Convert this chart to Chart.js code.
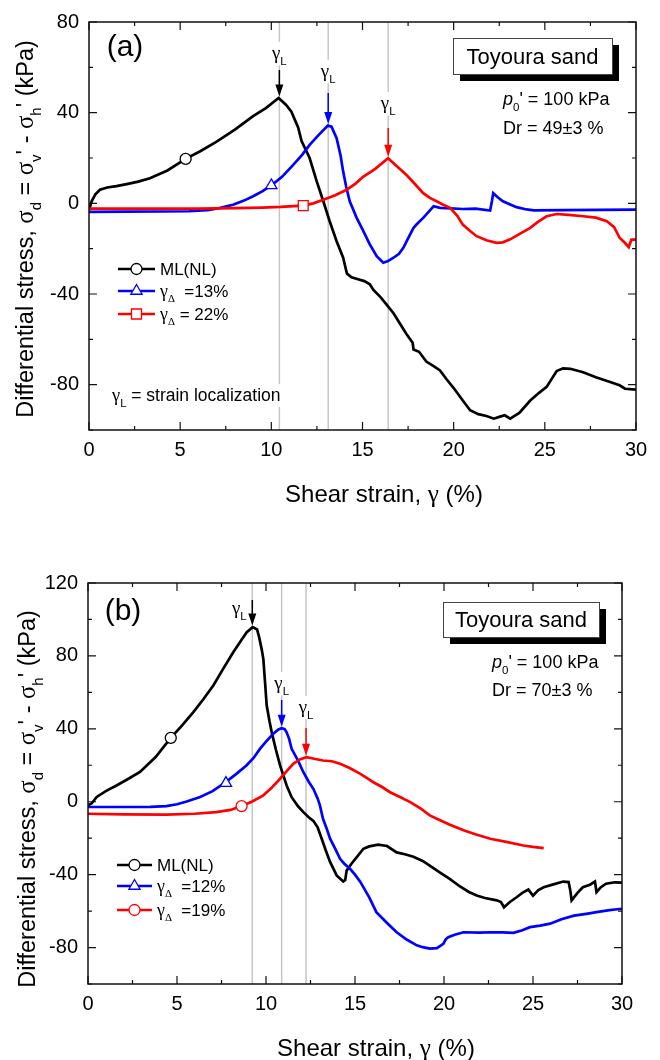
<!DOCTYPE html>
<html><head><meta charset="utf-8">
<script src="https://cdn.jsdelivr.net/npm/chart.js@4.4.1/dist/chart.umd.min.js"></script>
<style>
html,body{margin:0;padding:0;background:#fff;}
.p{position:absolute;left:0;width:660px;height:530px;}
canvas{display:block;}
</style>
</head><body>
<div class="p" style="top:0"><canvas id="ca" width="660" height="530"></canvas></div>
<div class="p" style="top:530px"><canvas id="cb" width="660" height="530"></canvas></div>
<script>
// ---------------- DATA ----------------
const xTickLabels = [0, 5, 10, 15, 20, 25, 30];
const yTickLabelsA = [-80, -40, 0, 40, 80];
const yTickLabelsB = [-80, -40, 0, 40, 80, 120];

// Panel (a) Dr = 49%
const aStrainML = [0,0.15,0.35,0.6,1.0,1.5,2.07,2.7,3.34,4.3,5.3,6.1,7.0,8.0,9.0,9.7,10.4,10.8,11.1,11.47,11.66,12.1,12.49,12.85,13.2,13.58,13.94,14.1,14.15,14.4,14.8,15.1,15.4,15.6,16.0,16.3,16.7,17.05,17.4,17.75,17.8,18.1,18.5,18.9,19.25,19.6,20.0,20.5,20.9,21.35,21.8,22.2,22.5,22.8,23.1,23.6,24.2,24.7,25.1,25.65,26.0,26.4,27.1,27.8,28.5,29.1,29.4,30];
const aStressML = [-3,1,4,6,7,7.6,8.5,9.6,11.1,14.5,19.6,23,27.2,32.5,38.5,42,46.5,43.5,40.4,33.5,27.5,20,9.7,0.9,-7.9,-16.7,-24,-29.5,-31,-32.6,-33.6,-34.3,-35.7,-38.2,-41.5,-44.5,-48.5,-53,-57.5,-61.5,-64.5,-65.5,-69.8,-71.8,-73.7,-77.5,-81.5,-87,-91.3,-93,-93.8,-95,-94.2,-93.5,-95,-92.5,-87,-83.5,-81,-74,-72.8,-73,-74.5,-76.7,-78.6,-80.3,-81.8,-82.2];
const aStrain13 = [0,2,4,5.5,6.5,7.2,7.9,8.5,9.0,9.5,10.0,10.6,11.2,11.7,12.1,12.6,13.1,13.3,13.58,13.8,13.94,14.1,14.3,14.68,15.0,15.4,15.78,16.14,16.4,16.7,17.0,17.24,17.5,17.8,18.0,18.33,18.6,18.9,19.25,19.6,20.5,21.2,22.0,22.1,22.17,22.4,22.7,23.1,23.45,24.0,24.4,26,28,30];
const aStress13 = [-3.8,-3.7,-3.6,-3.5,-3,-2,-0.6,1.2,3.1,5.3,7.9,11.8,17,21.5,25.8,30.2,34.3,33.8,28.7,21,14,7.5,0.9,-6.4,-11.5,-18.1,-23.3,-26.2,-25.5,-24,-22.3,-19.6,-15.5,-10.8,-9,-6.4,-4,-1.3,-2,-2.1,-2.5,-2.3,-3.2,1,4.5,2.8,0.9,-0.5,-1.7,-2.7,-3.1,-3.0,-2.9,-2.8];
const aStrain22 = [0,3,6,8,9.5,10.5,11.75,12.3,12.85,13.5,14.13,14.6,15.05,15.7,16.4,16.9,17.4,17.9,18.33,18.7,19.06,19.4,19.8,20.2,20.5,20.9,21.26,21.8,22.35,22.7,23.1,23.6,24.2,24.6,25.1,25.65,26.3,27.1,27.8,28.4,28.8,29.1,29.4,29.6,29.75,30];
const aStress22 = [-2.3,-2.3,-2.3,-2.1,-1.9,-1.6,-1.0,0,1.6,3.6,6.0,8.6,11.8,15.2,19.9,16.2,12.6,8.3,4.5,2.4,0.9,-0.5,-2.0,-5.5,-9.4,-12.2,-14.5,-16.3,-17.4,-17.2,-15.9,-13.6,-10.8,-8.3,-5.7,-4.7,-5.1,-5.7,-6.3,-7.9,-10.5,-15.2,-17.5,-19.3,-16,-16];
const aMarkerML = [5.3, 19.6];
const aMarker13 = [10.0, 7.9];
const aMarker22 = [11.75, -1.0];
const aLocalization = [10.44, 13.12, 16.41];
const aNames = ['ML(NL)', 'γ_{Δ}  =13%', 'γ_{Δ} = 22%'];

// Panel (b) Dr = 70%
const bStrainML = [0,0.2,0.49,1.0,1.6,2.2,2.92,3.8,4.65,5.3,5.92,6.5,7.04,7.6,8.16,8.6,8.92,9.25,9.5,9.62,9.75,9.85,9.95,10.04,10.2,10.32,10.55,10.79,11.16,11.44,11.8,12.1,12.4,12.66,12.9,13.13,13.35,13.6,13.97,14.2,14.34,14.45,14.53,14.8,15.1,15.47,15.8,16.3,16.8,17.34,17.8,18.28,18.8,19.2,19.8,20.3,20.9,21.4,21.84,22.3,22.96,23.2,23.37,23.7,24.08,24.4,24.74,25.0,25.3,25.6,26.1,26.7,27.0,27.1,27.17,27.5,27.8,28.2,28.48,28.57,28.8,29.1,29.6,30];
const bStressML = [-2,-1,2.6,5.8,8.9,12.2,16.3,24.5,35,42,49.2,56.5,63.8,73,82,88.5,93,95.8,94.5,90,84,78.4,65,52.8,44,38.2,28.8,19.9,8.9,2.5,-2.5,-5.7,-8.5,-10.5,-14,-20.3,-26.5,-33,-40.4,-42.5,-43.8,-43,-37.8,-34,-30.4,-25.8,-24.5,-23.5,-24.3,-27.8,-28.8,-30.2,-32.5,-35,-39,-42.2,-46.5,-49.5,-51.5,-52.8,-54.1,-55,-57.9,-55,-52.4,-50,-48.2,-51.5,-48.5,-46.9,-45.5,-43.8,-44.1,-49,-54.1,-50,-46.9,-45.5,-43.8,-49.6,-47,-45,-44.2,-44.4];
const bStrain12 = [0,2,3.5,4.4,5.0,5.5,6.3,7.0,7.7,8.3,8.9,9.3,9.66,10.0,10.41,10.7,10.88,11.05,11.16,11.3,11.44,11.8,12.1,12.4,12.66,12.9,13.03,13.2,13.4,13.6,13.9,14.16,14.4,14.72,15.0,15.3,15.8,16.2,16.8,17.34,17.9,18.47,18.8,19.2,19.6,19.96,20.1,20.24,20.6,21.1,22.0,22.6,23.3,23.9,24.4,24.83,25.4,25.96,26.6,27.3,28.0,28.57,29.3,30];
const bStress12 = [-2.9,-2.9,-2.8,-2.4,-1.4,0,2.6,5.8,10.5,15,19.9,24,29,33,37.3,39.6,40.3,39.8,38.1,34.5,29,22.5,16.2,11,7.1,1.8,-2.0,-9.3,-14.5,-20.3,-26,-31.3,-34,-36.8,-40,-44,-52.5,-60.6,-66.5,-71.6,-75.6,-78.8,-79.8,-80.6,-80.3,-78,-75.5,-74.3,-73,-71.6,-71.8,-71.6,-71.7,-71.9,-70.5,-68.8,-68,-66.9,-64.5,-62.5,-61.5,-60.6,-59.5,-58.7];
const bStrain19 = [0,2,4.4,6,7.2,8.0,8.63,9.2,9.85,10.3,10.79,11.2,11.53,11.9,12.28,12.7,13.2,13.7,14.16,14.7,15.28,15.7,16.03,16.5,16.97,17.5,18.1,18.7,19.2,19.6,20.3,21.1,21.8,22.6,23.5,24.46,25.0,25.6];
const bStress19 = [-6.6,-6.9,-7.1,-6.6,-5.7,-4.5,-2.4,0,3.5,7.5,12.6,17.2,20.8,23.2,24.4,23.6,22.6,22.2,20.8,18.5,15.4,12.8,10.7,8.2,5.2,2.7,-0.2,-3.8,-7.5,-9.3,-12.5,-15.7,-18,-20.3,-22,-24,-24.8,-25.5];
const bMarkerML = [4.65, 35];
const bMarker12 = [7.75, 10.2];
const bMarker19 = [8.63, -2.4];
const bLocalization = [9.23, 10.88, 12.25];
const bNames = ['ML(NL)', 'γ_{Δ}  =12%', 'γ_{Δ}  =19%'];

// ---------------- RENDERING ----------------
const SANS = '"Liberation Sans", Arial, Helvetica, sans-serif';
const GREEK = '"Liberation Serif", "Times New Roman", serif';
const BLACK = '#000000', BLUE = '#0000ff', RED = '#ff0000';

function parseRich(s) {
  const segs = []; let i = 0, buf = '';
  while (i < s.length) {
    const c = s[i];
    if ((c === '_' || c === '*' || c === '^') && s[i + 1] === '{') {
      if (buf) { segs.push({t: buf}); buf = ''; }
      const j = s.indexOf('}', i + 2);
      segs.push({t: s.slice(i + 2, j), sub: c === '_', sup: c === '^', it: c === '*'});
      i = j + 1;
    } else { buf += c; i++; }
  }
  if (buf) segs.push({t: buf});
  const out = [];
  segs.forEach(sg => {
    let run = '', g = null;
    for (const ch of sg.t) {
      const isG = /[\u0391-\u03C9]/.test(ch);
      if (g === null) g = isG;
      if (isG !== g) { out.push(Object.assign({}, sg, {t: run, greek: g})); run = ''; g = isG; }
      run += ch;
    }
    if (run) out.push(Object.assign({}, sg, {t: run, greek: g}));
  });
  return out;
}
function richFont(sg, size) {
  const sz = (sg.sub || sg.sup) ? size * 0.64 : (sg.greek ? size * 1.05 : size);
  return (sg.it ? 'italic ' : '') + sz.toFixed(1) + 'px ' + (sg.greek ? GREEK : SANS);
}
function drawRich(ctx, s, x, y, size, align, opts) {
  opts = opts || {};
  const segs = parseRich(s);
  let w = 0;
  segs.forEach(sg => { ctx.font = richFont(sg, size); sg.w = ctx.measureText(sg.t).width; w += sg.w; });
  let cx = align === 'center' ? x - w / 2 : align === 'right' ? x - w : x;
  if (opts.bg) { ctx.fillStyle = opts.bg; ctx.fillRect(cx - 2, y - size * 0.62, w + 4, size * 1.3); }
  ctx.textAlign = 'left'; ctx.textBaseline = 'alphabetic'; ctx.fillStyle = opts.color || '#000';
  const base = y + size * 0.36;
  segs.forEach(sg => {
    ctx.font = richFont(sg, size);
    const dy = sg.sub ? size * 0.3 : sg.sup ? -size * 0.4 : 0;
    ctx.fillText(sg.t, cx, base + dy);
    cx += sg.w;
  });
  return w;
}
function drawMarker(ctx, style, x, y, color) {
  ctx.save(); ctx.fillStyle = '#fff'; ctx.strokeStyle = color; ctx.lineWidth = 1.3;
  ctx.beginPath();
  if (style === 'circle') ctx.arc(x, y, 5.5, 0, Math.PI * 2);
  else if (style === 'triangle') { const r = 6.5; ctx.moveTo(x, y - r); ctx.lineTo(x + r * 0.866, y + r / 2); ctx.lineTo(x - r * 0.866, y + r / 2); ctx.closePath(); }
  else { ctx.rect(x - 5, y - 5, 10, 10); }
  ctx.fill(); ctx.stroke(); ctx.restore();
}
const pts = (xs, ys) => xs.map((v, i) => ({x: v, y: ys[i]}));
const peak = ys => Math.max.apply(null, ys);

function makePlugin(P) {
  return {
    id: 'deco',
    beforeDatasetsDraw(chart) {
      const {ctx, chartArea: a} = chart; const x = chart.scales.x;
      ctx.save(); ctx.strokeStyle = '#c6c6c6'; ctx.lineWidth = 1.5;
      P.loc.forEach(v => { const px = x.getPixelForValue(v); ctx.beginPath(); ctx.moveTo(px, a.top); ctx.lineTo(px, a.bottom); ctx.stroke(); });
      ctx.restore();
    },
    afterDatasetsDraw(chart) {
      const {ctx, chartArea: a} = chart; const x = chart.scales.x, y = chart.scales.y;
      ctx.save();
      // gamma_L labels and arrows
      P.series.forEach((s, i) => {
        const px = x.getPixelForValue(P.loc[i]);
        const tip = y.getPixelForValue(peak(s.y)) - 1.5;
        const st = P.arrowStart[i];
        drawRich(ctx, 'γ_{L}', px + P.labDx[i], P.labY[i], 18, 'center', {bg: '#fff'});
        ctx.strokeStyle = s.color; ctx.fillStyle = s.color; ctx.lineWidth = 1.5;
        ctx.beginPath(); ctx.moveTo(px, st); ctx.lineTo(px, tip - 10); ctx.stroke();
        ctx.beginPath(); ctx.moveTo(px - 4, tip - 12); ctx.lineTo(px + 4, tip - 12); ctx.lineTo(px, tip); ctx.closePath(); ctx.fill();
      });
      // legend
      P.series.forEach((s, i) => {
        const ly = P.legY[i];
        ctx.strokeStyle = s.color; ctx.lineWidth = 2.5;
        ctx.beginPath(); ctx.moveTo(P.legX[0], ly); ctx.lineTo(P.legX[1], ly); ctx.stroke();
        drawMarker(ctx, s.marker, (P.legX[0] + P.legX[1]) / 2, ly, s.color);
        drawRich(ctx, P.names[i], P.legX[1] + 5, ly, 17, 'left');
      });
      // panel label
      ctx.fillStyle = '#000'; ctx.font = '30px ' + SANS; ctx.textAlign = 'center'; ctx.textBaseline = 'middle';
      ctx.fillText(P.panel, P.panelPos[0], P.panelPos[1]);
      // box
      const b = P.box;
      ctx.fillStyle = '#000'; ctx.fillRect(b[0] + 7, b[1] + 7, b[2] - b[0], b[3] - b[1]);
      ctx.fillStyle = '#fff'; ctx.fillRect(b[0], b[1], b[2] - b[0], b[3] - b[1]);
      ctx.strokeStyle = '#444'; ctx.lineWidth = 1; ctx.strokeRect(b[0] + 0.5, b[1] + 0.5, b[2] - b[0], b[3] - b[1]);
      drawRich(ctx, 'Toyoura sand', (b[0] + b[2]) / 2, (b[1] + b[3]) / 2, 22, 'center');
      drawRich(ctx, "*{p}_{0}' = 100 kPa", P.cond[0], P.cond[1], 18, 'left');
      drawRich(ctx, P.dr, P.cond[0], P.cond[2], 18, 'left');
      if (P.note) drawRich(ctx, 'γ_{L} = strain localization', P.note[0], P.note[1], 17.5, 'left', {bg: '#fff'});
      // frame
      ctx.strokeStyle = '#111'; ctx.lineWidth = 1.5;
      ctx.strokeRect(a.left, a.top, a.right - a.left, a.bottom - a.top);
      // inner ticks all sides
      ctx.lineWidth = 1.2;
      x.ticks.forEach(t => {
        const px = x.getPixelForValue(t.value); const L = Math.abs(t.value % 5) < 1e-6 ? 8 : 4;
        ctx.beginPath(); ctx.moveTo(px, a.bottom); ctx.lineTo(px, a.bottom - L); ctx.moveTo(px, a.top); ctx.lineTo(px, a.top + L); ctx.stroke();
      });
      y.ticks.forEach(t => {
        const py = y.getPixelForValue(t.value); const L = Math.abs(t.value % 40) < 1e-6 ? 8 : 4;
        ctx.beginPath(); ctx.moveTo(a.left, py); ctx.lineTo(a.left + L, py); ctx.moveTo(a.right, py); ctx.lineTo(a.right - L, py); ctx.stroke();
      });
      // axis titles
      drawRich(ctx, 'Shear strain, γ (%)', P.xTitle[0], P.xTitle[1], 24, 'center');
      ctx.save(); ctx.translate(P.yTitle[0], P.yTitle[1]); ctx.rotate(-Math.PI / 2);
      drawRich(ctx, "Differential stress, σ_{d} = σ_{v}' - σ_{h}' (kPa)", 0, 0, 23.5, 'center');
      ctx.restore();
      ctx.restore();
    }
  };
}

function makeChart(id, P) {
  const datasets = [];
  P.series.forEach((s, i) => {
    datasets.push({data: pts(s.x, s.y), borderColor: s.color, borderWidth: 2.7, pointRadius: 0, tension: 0, fill: false, order: 3 - i});
  });
  P.series.forEach(s => {
    datasets.push({data: [{x: s.m[0], y: s.m[1]}], showLine: false, pointStyle: s.marker,
      pointRadius: s.marker === 'rect' ? 7 : s.marker === 'triangle' ? 6.5 : 5.5,
      pointBackgroundColor: '#fff', pointBorderColor: s.color, pointBorderWidth: 1.3, order: -1});
  });
  const tickFont = {family: SANS, size: 20};
  return new Chart(document.getElementById(id), {
    type: 'line',
    data: {datasets},
    options: {
      responsive: false, animation: false, devicePixelRatio: 1,
      layout: {padding: {top: P.pad[0], right: P.pad[1], bottom: 0, left: 0}},
      plugins: {legend: {display: false}, tooltip: {enabled: false}},
      scales: {
        x: {type: 'linear', min: 0, max: 30,
          afterFit(s) { s.height = P.xH; },
          grid: {display: false, drawTicks: false}, border: {display: false},
          ticks: {stepSize: 2.5, autoSkip: false, maxRotation: 0, padding: 8, color: '#000', font: tickFont,
            callback: v => xTickLabels.some(t => Math.abs(t - v) < 1e-6) ? String(v) : ''}},
        y: {type: 'linear', min: -100, max: P.yMax,
          afterFit(s) { s.width = P.yW; },
          grid: {display: false, drawTicks: false}, border: {display: false},
          ticks: {stepSize: 20, autoSkip: false, padding: 10, color: '#000', font: tickFont,
            callback: v => P.yLabels.some(t => Math.abs(t - v) < 1e-6) ? String(v) : ''}}
      }
    },
    plugins: [makePlugin(P)]
  });
}

makeChart('ca', {
  series: [
    {x: aStrainML, y: aStressML, color: BLACK, m: aMarkerML, marker: 'circle'},
    {x: aStrain13, y: aStress13, color: BLUE, m: aMarker13, marker: 'triangle'},
    {x: aStrain22, y: aStress22, color: RED, m: aMarker22, marker: 'rect'}
  ],
  names: aNames, loc: aLocalization, yLabels: yTickLabelsA, yMax: 80,
  pad: [20, 24], yW: 89, xH: 100,
  arrowStart: [70, 93, 128], labY: [53, 71, 103], labDx: [0, 0, 0],
  legX: [118, 155], legY: [269, 291, 314],
  panel: '(a)', panelPos: [125, 48],
  box: [453, 38, 612, 74], cond: [503, 99, 128], dr: 'Dr = 49±3 %',
  note: [112, 395], xTitle: [384, 493], yTitle: [25, 229]
});
makeChart('cb', {
  series: [
    {x: bStrainML, y: bStressML, color: BLACK, m: bMarkerML, marker: 'circle'},
    {x: bStrain12, y: bStress12, color: BLUE, m: bMarker12, marker: 'triangle'},
    {x: bStrain19, y: bStress19, color: RED, m: bMarker19, marker: 'circle'}
  ],
  names: bNames, loc: bLocalization, yLabels: yTickLabelsB, yMax: 120,
  pad: [53, 38], yW: 88, xH: 76,
  arrowStart: [70, 170, 198], labY: [78, 153, 177], labDx: [-13, 0, 0],
  legX: [117, 152], legY: [335, 356, 380],
  panel: '(b)', panelPos: [123, 82],
  box: [443, 72, 599, 107], cond: [492, 132, 160], dr: 'Dr = 70±3 %',
  note: null, xTitle: [376, 517], yTitle: [27, 269]
});
</script>
</body></html>
